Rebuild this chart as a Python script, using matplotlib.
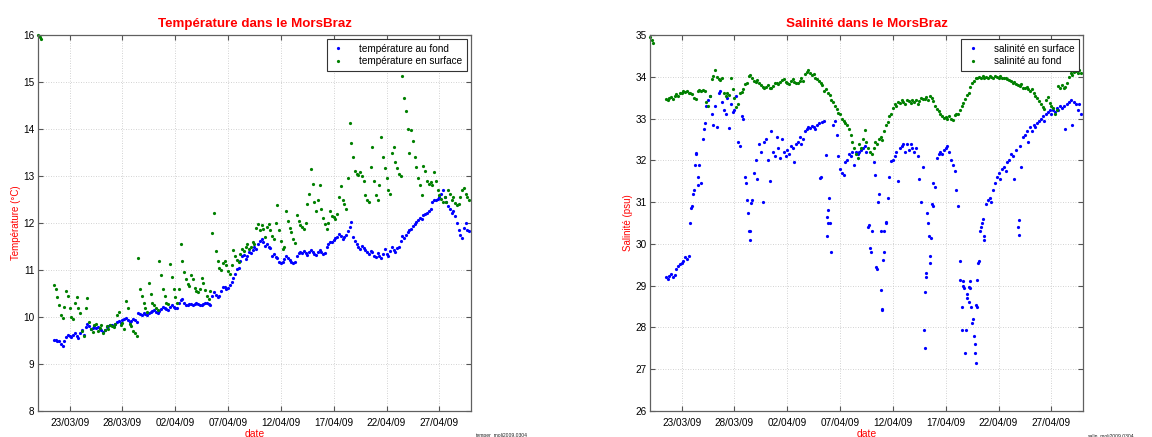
import numpy as np
import matplotlib
matplotlib.use('Agg')
import matplotlib.pyplot as plt
import matplotlib.dates as mdates

plt.rcParams['font.family'] = ['Liberation Sans', 'DejaVu Sans']

# ---------------- data ----------------
origin = '2009-03-20T00:00'
first_sample_day = 1.5          # days after origin of the first regular sample
samples_per_day = 6             # one reading every 4 hours

# bottom temperature (blue), one line per day
temp_fond = [
    9.52, 9.51, 9.50,
    9.48, 9.42, 9.39, 9.50, 9.58, 9.61,
    9.60, 9.57, 9.62, 9.65, 9.60, 9.56,
    9.66, 9.72, 9.62, 9.78, 9.86, 9.80,
    9.74, 9.76, 9.80, 9.76, 9.79, 9.74,
    9.72, 9.68, 9.72, 9.78, 9.80, 9.82,
    9.83, 9.80, 9.85, 9.90, 9.92, 9.88,
    9.93, 9.95, 9.98, 9.94, 9.90, 9.92,
    9.96, 9.93, 9.90, 10.08, 10.07, 10.05,
    10.08, 10.06, 10.05, 10.08, 10.11, 10.13,
    10.14, 10.10, 10.09, 10.13, 10.17, 10.21,
    10.20, 10.16, 10.15, 10.22, 10.26, 10.22,
    10.19, 10.20, 10.30, 10.37, 10.39, 10.30,
    10.26, 10.25, 10.27, 10.27, 10.25, 10.27,
    10.29, 10.28, 10.26, 10.25, 10.27, 10.29,
    10.30, 10.27, 10.26, 10.45, 10.53, 10.46,
    10.42, 10.44, 10.55, 10.63, 10.64, 10.60,
    10.62, 10.68, 10.74, 10.82, 10.92, 11.02,
    11.05, 11.20, 11.30, 11.32, 11.24, 11.30,
    11.38, 11.36, 11.42, 11.50, 11.45, 11.56,
    11.62, 11.66, 11.60, 11.52, 11.55, 11.50,
    11.46, 11.30, 11.35, 11.28, 11.25, 11.18,
    11.14, 11.16, 11.24, 11.30, 11.26, 11.22,
    11.18, 11.15, 11.18, 11.30, 11.36, 11.38,
    11.37, 11.40, 11.36, 11.32, 11.38, 11.43,
    11.38, 11.33, 11.32, 11.38, 11.42, 11.38,
    11.34, 11.36, 11.48, 11.56, 11.60, 11.60,
    11.64, 11.68, 11.70, 11.76, 11.72, 11.65,
    11.70, 11.74, 11.82, 11.92, 12.02, 11.70,
    11.62, 11.56, 11.50, 11.45, 11.52, 11.47,
    11.42, 11.38, 11.35, 11.40, 11.38, 11.30,
    11.28, 11.36, 11.30, 11.26, 11.35, 11.44,
    11.34, 11.30, 11.40, 11.50, 11.42, 11.38,
    11.46, 11.50, 11.62, 11.72, 11.68, 11.74,
    11.80, 11.85, 11.88, 11.94, 11.98, 12.02,
    12.06, 12.10, 12.08, 12.16, 12.20, 12.22,
    12.26, 12.30, 12.45, 12.50, 12.48, 12.52,
    12.55, 12.62, 12.70, 12.56, 12.44, 12.36,
    12.30, 12.22, 12.26, 12.15, 12.00, 11.85,
    11.75, 11.68, 11.90, 12.00, 11.85, 11.82,
]

# surface temperature (green), one line per day
temp_surf = [
    10.68, 10.60, 10.42,
    10.25, 10.05, 9.98, 10.22, 10.55, 10.45,
    10.20, 10.00, 9.95, 10.30, 10.42, 10.20,
    10.08, 9.70, 9.60, 10.20, 10.40, 9.90,
    9.75, 9.68, 9.82, 9.85, 9.70, 9.76,
    9.82, 9.66, 9.72, 9.80, 9.74, 9.84,
    9.80, 9.78, 9.86, 10.05, 10.10, 9.82,
    9.88, 9.74, 10.35, 10.20, 9.85, 9.80,
    9.70, 9.65, 9.60, 11.25, 10.60, 10.45,
    10.30, 10.20, 10.10, 10.72, 10.50, 10.30,
    10.25, 10.20, 10.15, 11.20, 10.90, 10.60,
    10.45, 10.30, 10.28, 11.12, 10.85, 10.60,
    10.42, 10.30, 10.60, 11.55, 11.20, 10.95,
    10.80, 10.70, 10.65, 10.90, 10.80, 10.62,
    10.56, 10.54, 10.60, 10.82, 10.72, 10.58,
    10.45, 10.38, 10.55, 11.78, 12.22, 11.40,
    11.20, 11.05, 11.00, 11.15, 11.20, 11.10,
    10.98, 10.92, 11.10, 11.42, 11.30, 11.22,
    11.18, 11.35, 11.45, 11.40, 11.50, 11.56,
    11.45, 11.50, 11.60, 11.55, 11.90, 11.98,
    11.85, 11.95, 11.88, 11.70, 11.92, 11.98,
    11.85, 11.72, 11.65, 12.00, 12.38, 11.86,
    11.62, 11.45, 11.50, 12.25, 12.05, 11.90,
    11.80, 11.65, 11.58, 12.16, 12.05, 11.95,
    11.92, 11.88, 12.00, 12.40, 12.62, 13.15,
    12.82, 12.45, 12.25, 12.50, 12.80, 12.30,
    12.10, 11.98, 11.88, 12.00, 12.25, 12.15,
    12.12, 12.08, 12.20, 12.55, 12.78, 12.50,
    12.40, 12.30, 12.95, 14.12, 13.70, 13.40,
    13.10, 13.05, 13.02, 13.08, 13.00, 12.90,
    12.60, 12.48, 12.45, 13.20, 13.62, 12.90,
    12.60, 12.50, 12.80, 13.84, 13.40, 13.18,
    12.95, 12.70, 12.62, 13.50, 13.62, 13.30,
    13.18, 13.05, 13.00, 15.12, 14.65, 14.38,
    14.00, 13.50, 13.98, 13.75, 13.40, 13.20,
    12.95, 12.80, 12.60, 13.22, 13.10, 12.90,
    12.82, 12.88, 12.80, 13.08, 12.90, 12.70,
    12.60, 12.52, 12.45, 12.55, 12.45, 12.70,
    12.62, 12.50, 12.55, 12.42, 12.38, 12.40,
    12.55, 12.70, 12.75, 12.62, 12.55, 12.50,
]

# first readings at the very start of the record
start_days = [0.03, 0.15, 0.28]
temp_surf_start = [16.0, 15.96, 15.92]
sal_fond_start = [34.96, 34.88, 34.82]

# surface salinity (blue), one line per day
sal_surf = [
    29.20, 29.16, 29.24,
    29.28, 29.20, 29.25, 29.40, 29.46, 29.52,
    29.55, 29.60, 29.68, 29.65, 29.72, 30.50,
    30.90, 31.30, 32.18, 31.60, 31.90, 31.45,
    32.50, 32.90, 33.30, 33.45, 33.55, 33.10,
    32.85, 33.30, 32.80, 33.60, 33.65, 33.40,
    33.20, 33.10, 33.50, 32.78, 33.35, 33.15,
    33.20, 33.55, 32.45, 32.35, 33.05, 33.00,
    31.60, 31.05, 30.30, 30.10, 31.05, 31.70,
    32.00, 31.55, 32.40, 32.20, 31.00, 32.45,
    32.50, 32.00, 31.50, 32.70, 32.20, 32.10,
    32.55, 32.30, 32.05, 32.50, 32.20, 32.10,
    32.25, 32.15, 32.35, 32.30, 31.95, 32.40,
    32.45, 32.55, 32.40, 32.50, 32.70, 32.75,
    32.80, 32.78, 32.82, 32.80, 32.75, 32.85,
    32.90, 31.60, 32.92, 32.95, 32.12, 30.80,
    30.50, 29.80, 32.85, 32.95, 32.60, 32.10,
    31.80, 31.70, 31.65, 31.95, 32.00, 32.15,
    32.10, 32.20, 31.90, 32.20, 32.15, 32.20,
    32.25, 32.30, 32.35, 32.20, 30.40, 29.90,
    30.30, 31.95, 31.65, 29.40, 31.20, 30.30,
    28.45, 29.80, 30.50, 31.10, 31.60, 31.98,
    32.00, 32.10, 32.20, 31.50, 32.30, 32.35,
    32.40, 32.20, 32.38, 32.25, 32.40, 32.30,
    32.20, 32.30, 32.10, 31.55, 31.00, 31.85,
    27.50, 29.30, 30.50, 29.70, 30.95, 31.45,
    31.35, 32.05, 32.15, 32.20, 32.15, 32.25,
    32.30, 32.35, 32.20, 32.00, 31.90, 31.75,
    31.30, 30.90, 29.60, 27.95, 29.10, 27.40,
    28.80, 28.60, 28.95, 28.10, 27.80, 27.15,
    28.50, 29.60, 30.40, 30.60, 30.10, 30.95,
    31.05, 31.10, 31.00, 31.30, 31.45, 31.60,
    31.70, 31.55, 31.80, 31.85, 31.75, 31.95,
    32.00, 32.15, 32.10, 31.55, 32.25, 30.40,
    32.35, 31.85, 32.55, 32.60, 32.70, 32.45,
    32.80, 32.70, 32.85, 32.80, 32.90, 32.95,
    33.00, 33.05, 32.95, 33.10, 33.15, 33.20,
    33.10, 33.20, 33.15, 33.25, 33.20, 33.30,
    33.25, 33.30, 32.75, 33.35, 33.40, 33.45,
    32.85, 33.40, 33.35, 33.20, 33.35, 33.10,
]

# extra surface-salinity readings inside the fresh-water dips
sal_surf_extra_days = [3.9, 4.05, 4.25, 4.4, 4.55, 5.1,
                       9.05, 9.25, 9.45, 9.6,
                       16.1, 16.75, 16.8, 16.9, 16.95,
                       20.75, 20.9, 21.4, 21.55, 21.9, 22.0, 22.1, 22.2, 22.35,
                       25.9, 26.05, 26.1, 26.2, 26.4, 26.55, 26.6, 26.75,
                       29.4, 29.55, 29.6, 29.75, 29.9, 30.05, 30.2, 30.3, 30.4,
                       30.55, 30.75, 30.8, 30.9, 31.0, 31.1, 31.2, 31.4, 31.6,
                       34.9, 34.95]
sal_surf_extra = [30.85, 31.2, 31.9, 32.15, 31.4, 32.75,
                  31.45, 30.73, 30.3, 30.97,
                  31.57, 30.65, 30.2, 30.5, 31.1,
                  30.46, 29.8, 29.45, 31.0, 28.9, 28.42, 29.62, 30.3, 30.52,
                  27.95, 28.86, 29.2, 30.75, 30.2, 29.55, 30.14, 30.9,
                  29.14, 28.5, 29.0, 28.95, 27.95, 28.7, 28.98, 29.1, 28.5,
                  28.2, 27.4, 27.6, 28.54, 29.14, 29.54, 30.3, 30.5, 30.2,
                  30.22, 30.58]

# bottom salinity (green), one line per day
sal_fond = [
    33.48, 33.44, 33.50,
    33.52, 33.46, 33.55, 33.58, 33.54, 33.60,
    33.62, 33.66, 33.63, 33.65, 33.62, 33.60,
    33.58, 33.50, 33.46, 33.66, 33.68, 33.67,
    33.68, 33.66, 33.40, 33.30, 33.55, 33.95,
    34.02, 34.16, 34.00, 33.95, 33.92, 33.98,
    33.60, 33.55, 33.62, 33.56, 33.98, 33.70,
    33.50, 33.28, 33.35, 33.60, 33.64, 33.70,
    33.82, 33.86, 34.02, 34.05, 33.98, 33.90,
    33.88, 33.92, 33.84, 33.80, 33.76, 33.72,
    33.76, 33.80, 33.74, 33.72, 33.78, 33.84,
    33.86, 33.82, 33.88, 33.92, 33.94, 33.88,
    33.84, 33.82, 33.90, 33.94, 33.88, 33.86,
    33.84, 33.90, 33.96, 33.90, 34.06, 34.12,
    34.17, 34.08, 34.05, 34.06, 33.98, 33.94,
    33.90, 33.86, 33.80, 33.66, 33.70, 33.60,
    33.56, 33.45, 33.40, 33.30, 33.22, 33.14,
    33.10, 33.00, 32.95, 32.90, 32.85, 32.75,
    32.60, 32.45, 32.30, 32.15, 32.05, 32.40,
    32.30, 32.50, 32.72, 32.45, 32.30, 32.20,
    32.15, 32.30, 32.45, 32.38, 32.50, 32.56,
    32.48, 32.70, 32.85, 32.92, 33.05, 33.12,
    33.25, 33.35, 33.30, 33.40, 33.38, 33.44,
    33.40, 33.35, 33.45, 33.42, 33.38, 33.45,
    33.40, 33.44, 33.36, 33.42, 33.50, 33.46,
    33.48, 33.52, 33.45, 33.54, 33.50, 33.42,
    33.30, 33.22, 33.18, 33.10, 33.06, 33.02,
    33.04, 32.98, 33.06, 33.00, 32.96, 33.08,
    33.12, 33.10, 33.20, 33.30, 33.38, 33.48,
    33.56, 33.62, 33.75, 33.85, 33.90, 33.96,
    33.98, 34.00, 33.96, 34.02, 33.98, 34.00,
    33.98, 34.02, 33.99, 33.96, 34.02, 34.00,
    33.97, 34.02, 33.98, 33.96, 33.98, 33.94,
    33.92, 33.90, 33.86, 33.88, 33.82, 33.80,
    33.78, 33.82, 33.74, 33.72, 33.76, 33.70,
    33.66, 33.70, 33.62, 33.55, 33.50, 33.42,
    33.36, 33.28, 33.22, 33.45, 33.52, 33.38,
    33.30, 33.26, 33.12, 33.20, 33.78, 33.74,
    33.80, 33.72, 33.76, 33.85, 34.00, 34.08,
    34.05, 34.12, 34.15, 34.10, 34.16, 34.10,
]

tick_dates = ['2009-03-23', '2009-03-28', '2009-04-02', '2009-04-07',
              '2009-04-12', '2009-04-17', '2009-04-22', '2009-04-27']
x_range = ['2009-03-20', '2009-04-30']

titles = ['Température dans le MorsBraz', 'Salinité dans le MorsBraz']
ylabels = ['Température (°C)', 'Salinité (psu)']
xlabel = 'date'
legend_temp = ['température au fond', 'température en surface']
legend_sal = ['salinité en surface', 'salinité au fond']
temp_range = (8, 16)
sal_range = (26, 35)
file_tags = ['temper_moli2009.0304', 'salin_moli2009.0304']

# ---------------- helpers ----------------
BASE = mdates.date2num(np.datetime64(origin))


def regular_x(values):
    days = first_sample_day + np.arange(len(values)) / samples_per_day
    return BASE + days


def day_x(days):
    return BASE + np.asarray(days, dtype=float)


BLUE = '#0000ff'
GREEN = '#008000'
RED = '#ff0000'
MS = 2.3


def style(ax, yr):
    ax.set_xlim(mdates.date2num(np.datetime64(x_range[0])),
                mdates.date2num(np.datetime64(x_range[1])))
    ax.set_ylim(*yr)
    ax.set_yticks(np.arange(yr[0], yr[1] + 1))
    ax.set_xticks(mdates.date2num(np.array(tick_dates, dtype='datetime64[D]')))
    ax.xaxis.set_major_formatter(mdates.DateFormatter('%d/%m/%y'))
    ax.grid(True, linestyle=(0, (1, 2)), color='#c4c4c4', linewidth=0.6)
    ax.set_axisbelow(True)
    ax.tick_params(axis='both', direction='in', top=True, right=True,
                   length=3.5, width=0.8, labelsize=7.2, color='#555555')
    ax.tick_params(axis='x', pad=5)
    ax.tick_params(axis='y', pad=2.5)
    for s in ax.spines.values():
        s.set_color('#606060')
        s.set_linewidth(0.9)


fig = plt.figure(figsize=(11.52, 4.37), dpi=100)
W, H = 1152, 437
ax1 = fig.add_axes([38 / W, (H - 411) / H, 433 / W, 376 / H])
ax2 = fig.add_axes([650 / W, (H - 411) / H, 433 / W, 376 / H])

kw = dict(linestyle='none', marker='o', markersize=MS, markeredgewidth=0)

# temperature
ax1.plot(regular_x(temp_fond), temp_fond, color=BLUE, label=legend_temp[0], **kw)
ax1.plot(regular_x(temp_surf), temp_surf, color=GREEN, label=legend_temp[1], **kw)
ax1.plot(day_x(start_days), temp_surf_start, color=GREEN, clip_on=False, **kw)

# salinity
ax2.plot(regular_x(sal_surf), sal_surf, color=BLUE, label=legend_sal[0], **kw)
ax2.plot(day_x(sal_surf_extra_days), sal_surf_extra, color=BLUE, **kw)
ax2.plot(regular_x(sal_fond), sal_fond, color=GREEN, label=legend_sal[1], **kw)
ax2.plot(day_x(start_days), sal_fond_start, color=GREEN, clip_on=False, **kw)

for ax, yr, title, ylab in [(ax1, temp_range, titles[0], ylabels[0]),
                            (ax2, sal_range, titles[1], ylabels[1])]:
    style(ax, yr)
    ax.set_title(title, color=RED, fontsize=9.6, fontweight='bold', pad=6)
    ax.set_ylabel(ylab, color=RED, fontsize=7)
    ax.yaxis.set_label_coords(-0.04, 0.5)
    ax.set_xlabel(xlabel, color=RED, fontsize=7.5, va='top')
    ax.xaxis.set_label_coords(0.5, -0.047)
    leg = ax.legend(loc='upper right', fontsize=7.2, frameon=True, fancybox=False,
                    edgecolor='#333333', framealpha=1, borderaxespad=0.4,
                    handlelength=1.4, handletextpad=1.4, borderpad=0.45,
                    labelspacing=0.3, markerscale=1.0)
    leg.get_frame().set_linewidth(0.8)

fig.text(476 / W, 1 - 436 / H, file_tags[0], fontsize=3.6, color='#222222', va='center')
fig.text(1088 / W, 1 - 436 / H, file_tags[1], fontsize=3.6, color='#222222', va='center')

fig.savefig('out.png', dpi=100)
